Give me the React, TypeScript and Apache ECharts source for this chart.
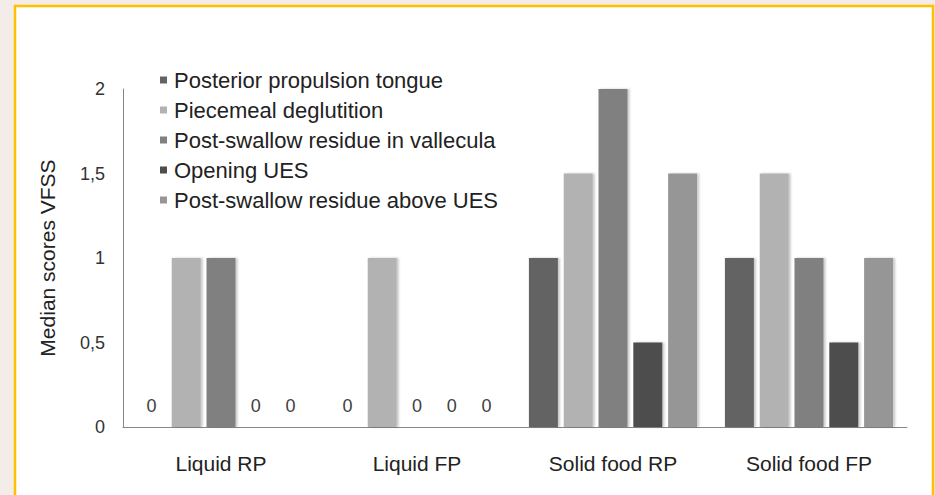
import React, { useEffect, useRef } from "react";
import * as echarts from "echarts";

const categories = ["Liquid RP", "Liquid FP", "Solid food RP", "Solid food FP"];
const seriesNames = [
  "Posterior propulsion tongue",
  "Piecemeal deglutition",
  "Post-swallow residue in vallecula",
  "Opening UES",
  "Post-swallow residue above UES",
];
const posteriorPropulsion = [0, 0, 1, 1];
const piecemealDeglutition = [1, 1, 1.5, 1.5];
const residueVallecula = [1, 0, 2, 1];
const openingUES = [0, 0, 0.5, 0.5];
const residueAboveUES = [0, 0, 1.5, 1];
const seriesValues = [posteriorPropulsion, piecemealDeglutition, residueVallecula, openingUES, residueAboveUES];
const seriesColors = ["#646464", "#b2b2b2", "#808080", "#4d4d4d", "#969696"];
const yTicks = [0, 0.5, 1, 1.5, 2];

const FONT = "'Liberation Sans', Arial, sans-serif";

export default function App() {
  const ref = useRef<HTMLDivElement>(null);
  useEffect(() => {
    if (!ref.current) return;
    const chart = echarts.init(ref.current, null, { renderer: "svg" });
    chart.setOption({
      animation: false,
      backgroundColor: "#f3ece9",
      textStyle: { fontFamily: FONT },
      graphic: [
        {
          type: "rect",
          z: -10,
          silent: true,
          shape: { x: 15, y: 6, width: 918, height: 500 },
          style: { fill: "#ffffff", stroke: "#ffc000", lineWidth: 2.5 },
        },
      ],
      grid: { left: 123, right: 28, top: 89, bottom: 68, containLabel: false },
      legend: {
        orient: "vertical",
        left: 155,
        top: 64,
        itemWidth: 7,
        itemHeight: 7,
        itemGap: 8,
        icon: "rect",
        data: seriesNames,
        textStyle: { fontFamily: FONT, fontSize: 22, color: "#222", lineHeight: 22, padding: [0, 0, 0, 2] },
      },
      xAxis: {
        type: "category",
        data: categories,
        axisLine: { lineStyle: { color: "#868686", width: 1 } },
        axisTick: { show: false },
        axisLabel: { fontFamily: FONT, fontSize: 21, color: "#222", margin: 26 },
      },
      yAxis: {
        type: "value",
        min: 0,
        max: 2,
        interval: 0.5,
        name: "Median scores VFSS",
        nameLocation: "middle",
        nameRotate: 90,
        nameGap: 65,
        nameTextStyle: { fontFamily: FONT, fontSize: 21, color: "#222" },
        axisLine: { show: true, lineStyle: { color: "#868686", width: 1 } },
        axisTick: { show: false },
        splitLine: { show: false },
        axisLabel: {
          fontFamily: FONT,
          fontSize: 18,
          color: "#333",
          margin: 18,
          formatter: (v: number) => (yTicks.includes(v) ? String(v).replace(".", ",") : ""),
        },
      },
      series: seriesNames.map((name, i) => ({
        name,
        type: "bar",
        data: seriesValues[i],
        barWidth: 29,
        barGap: "20%",
        itemStyle: {
          color: seriesColors[i],
          shadowColor: "rgba(0,0,0,0.22)",
          shadowBlur: 2,
          shadowOffsetX: 2,
          shadowOffsetY: 0,
        },
        label: {
          show: true,
          position: "top",
          distance: 12,
          fontFamily: FONT,
          fontSize: 18,
          color: "#404040",
          formatter: (p: any) => (p.value === 0 ? "0" : ""),
        },
      })),
    });
    return () => chart.dispose();
  }, []);
  return <div ref={ref} style={{ position: "fixed", left: 0, top: 0, width: 935, height: 495 }} />;
}
